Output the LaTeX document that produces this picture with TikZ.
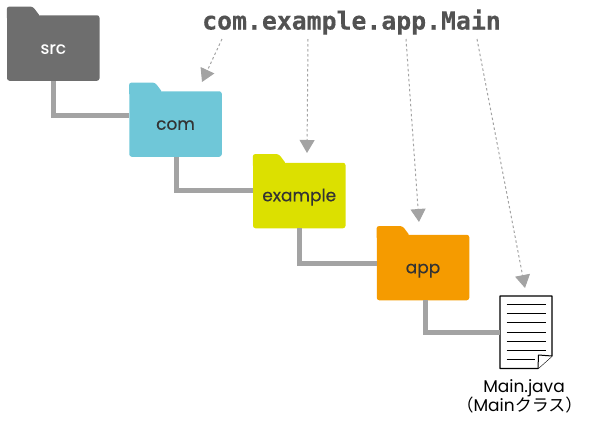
\documentclass[tikz,border=0pt]{standalone}
\usepackage{fontspec}
\setmainfont{Poppins}
\setmonofont{DejaVu Sans Mono}
\newfontfamily\cjk{Noto Sans CJK JP}
\usetikzlibrary{arrows.meta,calc}
\definecolor{cSrc}{HTML}{6E6E6E}
\definecolor{cCom}{HTML}{6FC7D8}
\definecolor{cExa}{HTML}{DCE000}
\definecolor{cApp}{HTML}{F59B00}
\definecolor{cLine}{HTML}{A3A3A3}
\definecolor{cTxt}{HTML}{333333}
\tikzset{
  folderbody/.style={rounded corners=2.5pt,minimum width=92.5pt,minimum height=65.5pt,inner sep=0pt,text height=11.5pt,text depth=0pt,font=\fontsize{17}{19}\selectfont\addfontfeature{FakeBold=0.4},text=cTxt},
  branch/.style={draw=cLine,line width=5pt,line join=miter},
  pointer/.style={draw=cLine,line width=1pt,dash pattern=on 2.5pt off 2.5pt,-{Triangle[length=13pt,width=15pt,fill=cLine,sep=0pt]}},
  docline/.style={draw=black,line width=1pt},
}
\newcommand{\foldertab}[2]{%
  \fill[#2,rounded corners=2.5pt] ([yshift=-3pt]#1.north west) -- ([yshift=8.5pt]#1.north west) -- ([xshift=26pt,yshift=8.5pt]#1.north west) [sharp corners] -- ([xshift=32pt,yshift=0.5pt]#1.north west) -- ([xshift=32pt,yshift=-3pt]#1.north west) -- cycle;}
\begin{document}
\begin{tikzpicture}[x=1pt,y=-1pt]
\useasboundingbox (0,0) rectangle (590,426);
\node[folderbody,fill=cSrc,text=white] (src) at (53.25,48) {src};
\node[folderbody,fill=cCom] (com) at (175.5,124) {com};
\node[folderbody,fill=cExa] (exa) at (299.25,195.5) {example};
\node[folderbody,fill=cApp] (app) at (423,267.5) {app};
\foldertab{src}{cSrc}
\foldertab{com}{cCom}
\foldertab{exa}{cExa}
\foldertab{app}{cApp}
% document
\coordinate (dnw) at (500,296);
\coordinate (dne) at (552,296);
\coordinate (dsw) at (500,368.5);
\coordinate (dse) at (538,368.5);
\coordinate (dfr) at (552,356);
\coordinate (dfi) at (538.5,355);
\node[inner sep=0pt,minimum width=52pt,minimum height=72.5pt] (doc) at (526,332.25) {};
\draw[draw=black,line width=1.1pt,fill=white,line join=round] (dnw) -- (dne) -- (dfr) -- (dse) -- (dsw) -- cycle;
\draw[draw=black,line width=1pt,fill=white,line join=round] (dfr) -- (dfi) -- (dse);
\foreach \yy/\xe in {304.3/545.5,313.5/545.5,322.7/545.5,332/545.5,341/545.5,350/545.5,359/535}{
  \draw[docline] (506.5,\yy) -- (\xe,\yy);
}
% branches
\draw[branch] (src.south) ++(0.5pt,0) |- ([yshift=9pt]com.west);
\draw[branch] (com.south) ++(0.5pt,0) |- ([yshift=5pt]exa.west);
\draw[branch] (exa.south) ++(0.5pt,0) |- ([yshift=4pt]app.west);
\draw[branch] (app.south) ++(2pt,0) |- (doc.west);
% title and pointers
\node[inner sep=0pt,text=cTxt!85!white,font=\ttfamily\bfseries\fontsize{24.8}{26}\selectfont\addfontfeature{FakeBold=0.3}] (pkg) at (351.5,22) {com.example.app.Main};
\coordinate (p1) at (222,39);\coordinate (p2) at (308,39);\coordinate (p3) at (406,39);\coordinate (p4) at (477,39);
\coordinate (t1) at (202,82);\coordinate (t2) at (307,153);\coordinate (t3) at (419,222);\coordinate (t4) at (525,288);
\draw[pointer] (p1) -- (t1);
\draw[pointer] (p2) -- (t2);
\draw[pointer] (p3) -- (t3);
\draw[pointer] (p4) -- (t4);
\node[inner sep=0pt,align=center,text=black,font=\fontsize{17}{19}\selectfont] (lbl) at (519.5,396) {\hspace*{9pt}Main.java\\{\cjk （}Main{\cjk クラス）}};
\end{tikzpicture}
\end{document}
